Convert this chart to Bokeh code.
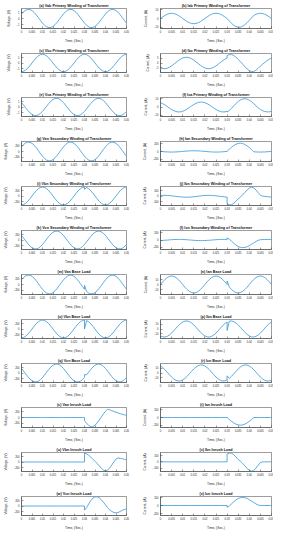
from bokeh.plotting import figure
from bokeh.layouts import gridplot
from bokeh.models import FixedTicker, Label, Range1d, NumeralTickFormatter
from bokeh.embed import file_html
from bokeh.resources import INLINE

# time grid (s); 0.03 appears twice: value just before / just after the switching instant
T = [0.000, 0.001, 0.002, 0.003, 0.004, 0.005, 0.006, 0.007, 0.008, 0.009,
     0.010, 0.011, 0.012, 0.013, 0.014, 0.015, 0.016, 0.017, 0.018, 0.019,
     0.020, 0.021, 0.022, 0.023, 0.024, 0.025, 0.026, 0.027, 0.028, 0.029,
     0.030, 0.030,
     0.031, 0.032, 0.033, 0.034, 0.035, 0.036, 0.037, 0.038, 0.039, 0.040,
     0.041, 0.042, 0.043, 0.044, 0.045, 0.046, 0.047, 0.048, 0.049, 0.050]

X_TICKS = [0, 0.005, 0.01, 0.015, 0.02, 0.025, 0.03, 0.035, 0.04, 0.045, 0.05]

# primary winding voltages (x10^4 V)
vab_pri = [0.78, 1.16, 1.42, 1.55, 1.52, 1.35, 1.04, 0.63, 0.16, -0.32, -0.78, -1.16, -1.42, -1.55, -1.52, -1.35, -1.04, -0.63, -0.16, 0.32,
           0.78, 1.16, 1.42, 1.55, 1.52, 1.35, 1.04, 0.63, 0.16, -0.32,
           -0.78, -0.78,
           -1.16, -1.42, -1.55, -1.52, -1.35, -1.04, -0.63, -0.16, 0.32,
           0.78, 1.16, 1.42, 1.55, 1.52, 1.35, 1.04, 0.63, 0.16, -0.32, -0.78]
vbc_pri = [-1.56, -1.48, -1.26, -0.91, -0.48, 0.0, 0.48, 0.91, 1.26, 1.48, 1.56, 1.48, 1.26, 0.91, 0.48, 0.0, -0.48, -0.91, -1.26, -1.48,
           -1.56, -1.48, -1.26, -0.91, -0.48, 0.0, 0.48, 0.91, 1.26, 1.48,
           1.56, 1.56,
           1.48, 1.26, 0.91, 0.48, 0.0, -0.48, -0.91, -1.26, -1.48,
           -1.56, -1.48, -1.26, -0.91, -0.48, 0.0, 0.48, 0.91, 1.26, 1.48, 1.56]
vca_pri = [0.78, 0.32, -0.16, -0.63, -1.04, -1.35, -1.52, -1.55, -1.42, -1.16, -0.78, -0.32, 0.16, 0.63, 1.04, 1.35, 1.52, 1.55, 1.42, 1.16,
           0.78, 0.32, -0.16, -0.63, -1.04, -1.35, -1.52, -1.55, -1.42, -1.16,
           -0.78, -0.78,
           -0.32, 0.16, 0.63, 1.04, 1.35, 1.52, 1.55, 1.42, 1.16,
           0.78, 0.32, -0.16, -0.63, -1.04, -1.35, -1.52, -1.55, -1.42, -1.16, -0.78]

# primary winding currents (A)
iab_pri = [0, 1.85, 3.53, 4.85, 5.71, 6, 5.71, 4.85, 3.53, 1.85, 0, -1.85, -3.53, -4.85, -5.71, -6, -5.71, -4.85, -3.53, -1.85,
           0, 1.85, 3.53, 4.85, 5.71, 6, 5.71, 4.85, 3.53, 1.85,
           0, 0,
           -2.94, -5.63, -7.81, -9.34, -10.05, -9.91, -8.9, -7.16, -4.81, -2.1,
           0.76, 3.53, 4.85, 5.71, 6, 5.71, 4.85, 3.53, 1.85, 0]
ibc_pri = [-5.2, -5.87, -5.97, -5.48, -4.46, -3, -1.25, 0.63, 2.44, 4.01, 5.2, 5.87, 5.97, 5.48, 4.46, 3, 1.25, -0.63, -2.44, -4.01,
           -5.2, -5.87, -5.97, -5.48, -4.46, -3, -1.25, 0.63, 2.44, 4.01,
           5.2, 7.83,
           8.81, 8.87, 7.9, 6.1, 3.8, 1.46, -1.16, -3.81, -6.22, -8.04,
           -9.02, -8.91, -7.58, -5.62, -3.21, -1.25, 0.63, 2.44, 4.01, 5.2]
ica_pri = [5.2, 4.01, 2.44, 0.63, -1.25, -3, -4.46, -5.48, -5.97, -5.87, -5.2, -4.01, -2.44, -0.63, 1.25, 3, 4.46, 5.48, 5.97, 5.87,
           5.2, 4.01, 2.44, 0.63, -1.25, -3, -4.46, -5.48, -5.97, -5.87,
           -5.2, -6.15,
           -4.22, -1.6, 1.37, 4.19, 6.68, 8.56, 9.68, 10.07, 9.55, 8.25,
           6.32, 4.02, 1.47, -1.0, -3, -4.46, -5.48, -5.97, -5.87, -5.2]

# secondary winding voltages (V)
van_sec = [163, 241, 297, 323, 318, 281, 217, 132, 34, -68, -163, -241, -297, -323, -318, -281, -217, -132, -34, 68,
           163, 241, 297, 323, 318, 281, 217, 132, 34, -68,
           -163, -163,
           -241, -297, -323, -318, -281, -217, -132, -34, 68,
           163, 241, 297, 323, 318, 281, 217, 132, 34, -68, -163]
vbn_sec = [-325, -309, -263, -191, -100, 0, 100, 191, 263, 309, 325, 309, 263, 191, 100, 0, -100, -191, -263, -309,
           -325, -309, -263, -191, -100, 0, 100, 191, 263, 309,
           325, 240,
           309, 263, 191, 100, 0, -100, -191, -263, -309,
           -325, -309, -263, -191, -100, 0, 100, 191, 263, 309, 325]
vcn_sec = [163, 68, -34, -132, -217, -281, -318, -323, -297, -241, -163, -68, 34, 132, 217, 281, 318, 323, 297, 241,
           163, 68, -34, -132, -217, -281, -318, -323, -297, -241,
           -163, -163,
           -68, 34, 132, 217, 281, 318, 323, 297, 241,
           163, 68, -34, -132, -217, -281, -318, -323, -297, -241, -163]

# secondary winding currents (A)
ian_sec = [0, -5.3, -10, -13.8, -16.2, -17, -16.2, -13.8, -10, -5.3, 0, 5.3, 10, 13.8, 16.2, 17, 16.2, 13.8, 10, 5.3,
           0, -5.3, -10, -13.8, -16.2, -17, -16.2, -13.8, -10, -5.3,
           0, 0,
           57, 110, 155, 189, 210, 216, 207, 183, 146, 100,
           47, -10, -13.8, -16.2, -17, -16.2, -13.8, -10, -5.3, 0]
ibn_sec = [14.7, 16.6, 16.9, 15.5, 12.6, 8.5, 3.5, -1.8, -6.9, -11.4, -14.7, -16.6, -16.9, -15.5, -12.6, -8.5, -3.5, 1.8, 6.9, 11.4,
           14.7, 16.6, 16.9, 15.5, 12.6, 8.5, 3.5, -1.8, -6.9, -11.4,
           -14.7, -140,
           -157, -155, -131, -91, -47, -14, 27, 72, 116, 150,
           167, 157, 116, 68, 19, 3.5, -1.8, -6.9, -11.4, -14.7]
icn_sec = [-14.7, -11.4, -6.9, -1.8, 3.5, 8.5, 12.6, 15.5, 16.9, 16.6, 14.7, 11.4, 6.9, 1.8, -3.5, -8.5, -12.6, -15.5, -16.9, -16.6,
           -14.7, -11.4, -6.9, -1.8, 3.5, 8.5, 12.6, 15.5, 16.9, 16.6,
           14.7, 60,
           21, -33, -93, -144, -184, -208, -216, -212, -192, -160,
           -121, -82, -42, -8.5, 8.5, 12.6, 15.5, 16.9, 16.6, 14.7]

# base load voltages (V)
van_base = [163, 241, 297, 323, 318, 281, 217, 132, 34, -68, -163, -241, -297, -323, -318, -281, -217, -132, -34, 68,
            163, 241, 297, 323, 318, 281, 217, 132, 34, -68,
            -163, -30,
            -241, -297, -323, -318, -281, -217, -132, -34, 68,
            163, 241, 297, 323, 318, 281, 217, 132, 34, -68, -163]
vbn_base = [-325, -309, -263, -191, -100, 0, 100, 191, 263, 309, 325, 309, 263, 191, 100, 0, -100, -191, -263, -309,
            -325, -309, -263, -191, -100, 0, 100, 191, 263, 309,
            325, 0,
            309, 263, 191, 100, 0, -100, -191, -263, -309,
            -325, -309, -263, -191, -100, 0, 100, 191, 263, 309, 325]
vcn_base = [163, 68, -34, -132, -217, -281, -318, -323, -297, -241, -163, -68, 34, 132, 217, 281, 318, 323, 297, 241,
            163, 68, -34, -132, -217, -281, -318, -323, -297, -241,
            -163, -60,
            -68, 34, 132, 217, 281, 318, 323, 297, 241,
            163, 68, -34, -132, -217, -281, -318, -323, -297, -241, -163]

# base load currents (A)
ian_base = [0, 5.3, 10, 13.8, 16.2, 17, 16.2, 13.8, 10, 5.3, 0, -5.3, -10, -13.8, -16.2, -17, -16.2, -13.8, -10, -5.3,
            0, 5.3, 10, 13.8, 16.2, 17, 16.2, 13.8, 10, 5.3,
            0, 7,
            -5.3, -10, -13.8, -16.2, -17, -16.2, -13.8, -10, -5.3,
            0, 5.3, 10, 13.8, 16.2, 17, 16.2, 13.8, 10, 5.3, 0]
ibn_base = [-14.7, -16.6, -16.9, -15.5, -12.6, -8.5, -3.5, 1.8, 6.9, 11.4, 14.7, 16.6, 16.9, 15.5, 12.6, 8.5, 3.5, -1.8, -6.9, -11.4,
            -14.7, -16.6, -16.9, -15.5, -12.6, -8.5, -3.5, 1.8, 6.9, 11.4,
            14.7, -3,
            16.6, 16.9, 15.5, 12.6, 8.5, 3.5, -1.8, -6.9, -11.4,
            -14.7, -16.6, -16.9, -15.5, -12.6, -8.5, -3.5, 1.8, 6.9, 11.4, 14.7]
icn_base = [14.7, 11.4, 6.9, 1.8, -3.5, -8.5, -12.6, -15.5, -16.9, -16.6, -14.7, -11.4, -6.9, -1.8, 3.5, 8.5, 12.6, 15.5, 16.9, 16.6,
            14.7, 11.4, 6.9, 1.8, -3.5, -8.5, -12.6, -15.5, -16.9, -16.6,
            -14.7, -6,
            -11.4, -6.9, -1.8, 3.5, 8.5, 12.6, 15.5, 16.9, 16.6,
            14.7, 11.4, 6.9, 1.8, -3.5, -8.5, -12.6, -15.5, -16.9, -16.6, -14.7]

# inrush load voltages (V)
van_inr = [0] * 30 + [0, -110,
           -200, -280, -325, -320, -270, -190, -90, 20, 120, 220,
           285, 270, 240, 210, 185, 160, 135, 115, 95, 75]
vbn_inr = [0] * 30 + [0, 330,
           300, 250, 180, 100, 30, -50, -140, -230, -300, -330,
           -300, -220, -110, 10, 110, 150, 135, 120, 100, 85]
vcn_inr = [0] * 30 + [0, -150,
           -60, 80, 200, 290, 335, 340, 300, 230, 140, 40,
           -60, -140, -200, -240, -255, -240, -200, -160, -130, -110]

# inrush load currents (A)
ian_inr = [0] * 30 + [0, 0,
           -52, -100, -141, -173, -193, -200, -193, -173, -141, -100,
           -52, 0, 0, 0, 0, 0, 0, 0, 0, 0]
ibn_inr = [0] * 30 + [0, 125,
           140, 138, 115, 78, 38, 10, -25, -65, -105, -135,
           -150, -140, -100, -55, -10, 0, 0, 0, 0, 0]
icn_inr = [0] * 30 + [0, -45,
           -10, 40, 95, 140, 175, 195, 200, 195, 175, 145,
           110, 75, 40, 12, 0, 0, 0, 0, 0, 0]

V_LAB = "Voltage, (V)"
I_LAB = "Current, (A)"

panels = [
    ("(a) Vab Primary Winding of Transformer", vab_pri, V_LAB, (-1.7, 1.7), [-1, 0, 1], True),
    ("(b) Iab Primary Winding of Transformer", iab_pri, I_LAB, (-11.5, 11.5), [-10, 0, 10], False),
    ("(c) Vbc Primary Winding of Transformer", vbc_pri, V_LAB, (-1.7, 1.7), [-1, 0, 1], True),
    ("(d) Ibc Primary Winding of Transformer", ibc_pri, I_LAB, (-10, 10), [-5, 0, 5], False),
    ("(e) Vca Primary Winding of Transformer", vca_pri, V_LAB, (-1.7, 1.7), [-1, 0, 1], True),
    ("(f) Ica Primary Winding of Transformer", ica_pri, I_LAB, (-11.5, 11.5), [-10, 0, 10], False),
    ("(g) Van Secondary Winding of Transformer", van_sec, V_LAB, (-345, 345), [-200, 0, 200], False),
    ("(h) Ian Secondary Winding of Transformer", ian_sec, I_LAB, (-265, 260), [-200, 0, 200], False),
    ("(i) Vbn Secondary Winding of Transformer", vbn_sec, V_LAB, (-345, 345), [-200, 0, 200], False),
    ("(j) Ibn Secondary Winding of Transformer", ibn_sec, I_LAB, (-170, 180), [-100, 0, 100], False),
    ("(k) Vcn Secondary Winding of Transformer", vcn_sec, V_LAB, (-345, 345), [-200, 0, 200], False),
    ("(l) Icn Secondary Winding of Transformer", icn_sec, I_LAB, (-270, 270), [-200, 0, 200], False),
    ("(m) Van Base Load", van_base, V_LAB, (-345, 345), [-200, 0, 200], False),
    ("(n) Ian Base Load", ian_base, I_LAB, (-20, 20), [-10, 0, 10], False),
    ("(o) Vbn Base Load", vbn_base, V_LAB, (-345, 345), [-200, 0, 200], False),
    ("(p) Ibn Base Load", ibn_base, I_LAB, (-20, 20), [-10, 0, 10], False),
    ("(q) Vcn Base Load", vcn_base, V_LAB, (-345, 345), [-200, 0, 200], False),
    ("(r) Icn Base Load", icn_base, I_LAB, (-20, 20), [-10, 0, 10], False),
    ("(s) Van Inrush Load", van_inr, V_LAB, (-350, 350), [-200, 0, 200], False),
    ("(t) Ian Inrush Load", ian_inr, I_LAB, (-260, 260), [-200, 0, 200], False),
    ("(u) Vbn Inrush Load", vbn_inr, V_LAB, (-350, 350), [-200, 0, 200], False),
    ("(v) Ibn Inrush Load", ibn_inr, I_LAB, (-155, 150), [-100, 0, 100], False),
    ("(w) Vcn Inrush Load", vcn_inr, V_LAB, (-350, 350), [-200, 0, 200], False),
    ("(x) Icn Inrush Load", icn_inr, I_LAB, (-250, 225), [-200, 0, 200], False),
]

ROW_H = [45, 44, 44, 45, 44, 44, 45, 44, 44, 45, 44, 44]
FONT = "Liberation Sans"
LINE = "#3d9ddb"
EDGE = "#3a3a3a"

figs = []
for i, (title, ys, ylab, yr, yt, sci) in enumerate(panels):
    left = (i % 2 == 0)
    p = figure(width=136 if left else 137, height=ROW_H[i // 2],
               output_backend="svg", toolbar_location=None,
               x_range=Range1d(0, 0.05), y_range=Range1d(*yr),
               min_border_left=15 if left else 24,
               min_border_right=10 if left else 2,
               min_border_top=8, min_border_bottom=12,
               title=title)
    p.title.text_font = FONT
    p.title.text_font_size = "3.7px"
    p.title.text_font_style = "bold"
    p.title.align = "center"
    p.title.standoff = 1
    p.title.text_color = "#111111"

    p.line(T, ys, line_color=LINE, line_width=0.85)

    p.xaxis.ticker = FixedTicker(ticks=X_TICKS)
    p.xaxis.formatter = NumeralTickFormatter(format="0.[000]")
    p.yaxis.ticker = FixedTicker(ticks=yt)
    p.xaxis.axis_label = "Time, (Sec.)"
    p.yaxis.axis_label = ylab
    for ax in (p.xaxis, p.yaxis):
        ax.axis_label_text_font = FONT
        ax.axis_label_text_font_size = "3.3px"
        ax.axis_label_text_font_style = "normal"
        ax.axis_label_text_color = "#222222"
        ax.major_label_text_font = FONT
        ax.major_label_text_font_size = "2.6px"
        ax.major_label_text_color = "#222222"
        ax.major_tick_in = 2
        ax.major_tick_out = 0
        ax.minor_tick_line_color = None
        ax.major_tick_line_width = 0.5
        ax.major_tick_line_color = EDGE
        ax.axis_line_color = EDGE
        ax.axis_line_width = 0.5
    p.xaxis.major_label_standoff = 2
    p.xaxis.axis_label_standoff = 2
    p.yaxis.major_label_standoff = 2
    p.yaxis.axis_label_standoff = 3
    p.grid.visible = False
    p.outline_line_color = EDGE
    p.outline_line_width = 0.5
    p.background_fill_color = "white"
    p.border_fill_color = "white"
    if sci:
        p.add_layout(Label(x=0, y=yr[1], text="×10⁴", text_font=FONT,
                           text_font_size="3px", text_baseline="bottom",
                           y_offset=0.5, text_color="#222222"), "center")
    figs.append(p)

grid = gridplot(figs, ncols=2, toolbar_location=None)
open("out.html", "w").write(file_html(grid, INLINE))
